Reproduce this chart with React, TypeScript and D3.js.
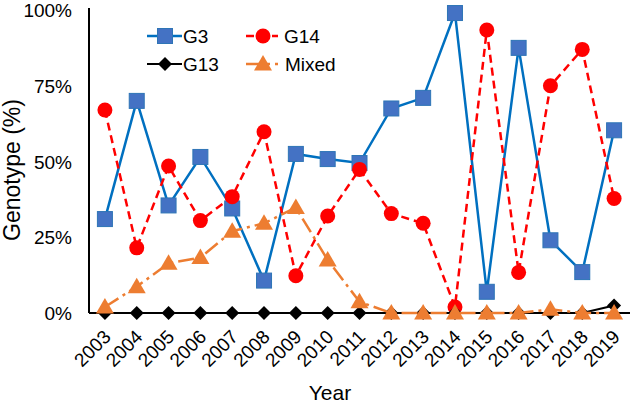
import React from "react";
import * as d3 from "d3";

const years = ["2003","2004","2005","2006","2007","2008","2009","2010","2011","2012","2013","2014","2015","2016","2017","2018","2019"];
const g3 = [31, 70, 35.5, 51.5, 34.5, 10.7, 52.5, 50.8, 49.5, 67.5, 71, 99, 7, 87.5, 24, 13.5, 60.3];
const g14 = [67, 21.5, 48.5, 30.5, 38.4, 59.8, 12.3, 32, 47.4, 32.8, 29.6, 2, 93.4, 13.4, 75, 87, 37.8];
const g13 = [0,0,0,0,0,0,0,0,0,0,0,0,0,0,0,0,2.5];
const mixed = [2, 8.7, 16.4, 18.3, 27, 29.6, 34.8, 17.5, 3.7, 0, 0, 0, 0, 0, 1.2, 0, 0];
const yTicks = [0, 25, 50, 75, 100];

const W = 630, H = 404;
const left = 89, right = 630, top = 10, bottom = 313;
const FONT = "Liberation Sans, Arial, sans-serif";

export default function App() {
  const x = d3.scaleBand<string>().domain(years).range([left, right]);
  const y = d3.scaleLinear().domain([0, 100]).range([bottom, top]);
  const cx = (yr: string) => (x(yr) as number) + x.bandwidth() / 2;
  const line = (vals: number[]) =>
    d3.line<number>().x((_, i) => cx(years[i])).y((v) => y(v))(vals) as string;

  const sq = (px: number, py: number, k: string) => (
    <rect key={k} x={px - 7.5} y={py - 7.5} width={15} height={15} fill="#4472C4" stroke="#2E75B6" strokeWidth={1} />
  );
  const circ = (px: number, py: number, k: string) => (
    <circle key={k} cx={px} cy={py} r={7.5} fill="#FF0000" />
  );
  const dia = (px: number, py: number, k: string) => (
    <path key={k} d={`M${px},${py - 7}L${px + 7},${py}L${px},${py + 7}L${px - 7},${py}Z`} fill="#000" />
  );
  const tri = (px: number, py: number, k: string) => (
    <path key={k} d={`M${px},${py - 9}L${px + 9},${py + 6.5}L${px - 9},${py + 6.5}Z`} fill="#ED7D31" />
  );

  return (
    <svg width={W} height={H} style={{ position: "absolute", left: 0, top: 0 }} fontFamily={FONT}>
      <rect width={W} height={H} fill="#fff" />
      {yTicks.map((t) => (
        <text key={t} x={72} y={y(t) + 7} fontSize={19} textAnchor="end">{`${t}%`}</text>
      ))}
      {years.map((yr) => (
        <text key={yr} transform={`translate(${cx(yr) + 7},338) rotate(-45)`} fontSize={19} textAnchor="end">
          {yr}
        </text>
      ))}
      <text x={330} y={400} fontSize={21} textAnchor="middle">Year</text>
      <text transform="translate(20,170) rotate(-90)" fontSize={23} textAnchor="middle">
        Genotype (%)
      </text>

      <line x1={left} x2={left} y1={8} y2={bottom} stroke="#000" strokeWidth={2} />

      <path d={line(g3)} fill="none" stroke="#0070C0" strokeWidth={2.5} />
      {g3.map((v, i) => sq(cx(years[i]), y(v), "s" + i))}
      <path d={line(g14)} fill="none" stroke="#FF0000" strokeWidth={2.5} strokeDasharray="8,5" />
      {g14.map((v, i) => circ(cx(years[i]), y(v), "c" + i))}
      <line x1={left} x2={right} y1={bottom} y2={bottom} stroke="#000" strokeWidth={2} />
      <path d={line(g13)} fill="none" stroke="#000" strokeWidth={2} />
      {g13.map((v, i) => dia(cx(years[i]), y(v), "d" + i))}
      <path d={line(mixed)} fill="none" stroke="#ED7D31" strokeWidth={2.5} strokeDasharray="16,5,3,5" />
      {mixed.map((v, i) => tri(cx(years[i]), y(v), "t" + i))}

      {/* legend */}
      <line x1={147} x2={182} y1={36} y2={36} stroke="#0070C0" strokeWidth={2.5} />
      {sq(165, 36, "lg3")}
      <text x={183} y={43} fontSize={19}>G3</text>
      <line x1={246} x2={278} y1={36} y2={36} stroke="#FF0000" strokeWidth={2.5} strokeDasharray="8,5" />
      {circ(263, 36, "lg14")}
      <text x={284} y={43} fontSize={19}>G14</text>
      <line x1={147} x2={182} y1={64} y2={64} stroke="#000" strokeWidth={2} />
      {dia(165, 64, "lg13")}
      <text x={183} y={71} fontSize={19}>G13</text>
      <line x1={246} x2={280} y1={64} y2={64} stroke="#ED7D31" strokeWidth={2.5} strokeDasharray="24,5,3,5" />
      {tri(263, 64, "lgm")}
      <text x={285} y={71} fontSize={19}>Mixed</text>
    </svg>
  );
}
